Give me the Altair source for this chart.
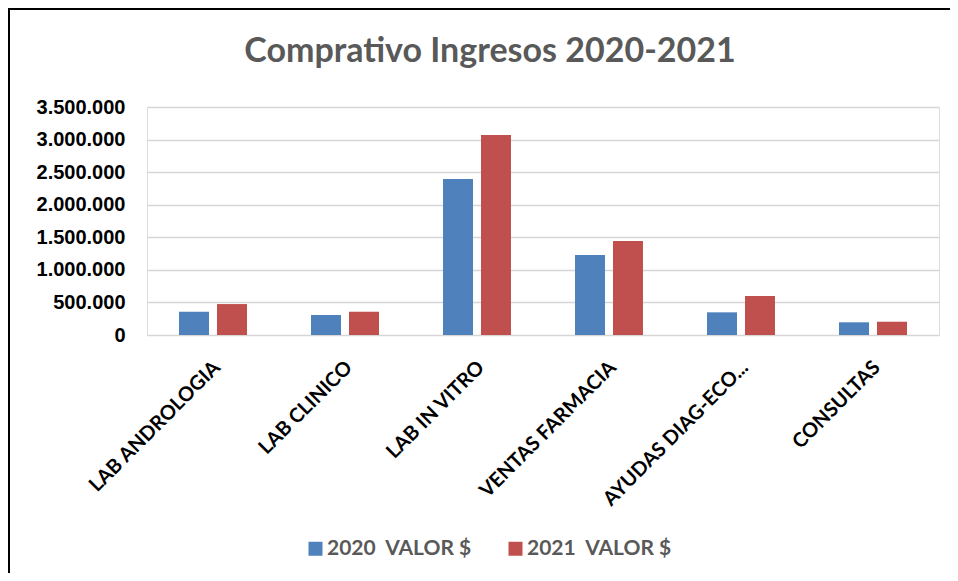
import altair as alt
import pandas as pd

categories = ["LAB ANDROLOGIA", "LAB CLINICO", "LAB IN VITRO",
              "VENTAS FARMACIA", "AYUDAS DIAG-ECO...", "CONSULTAS"]
series_names = ["2020 \u00a0VALOR $", "2021 \u00a0VALOR $"]
values_2020 = [357000, 307000, 2393000, 1227000, 348000, 195000]
values_2021 = [475000, 357000, 3072000, 1442000, 598000, 204000]
colors = ["#4F81BD", "#C0504D"]
y_ticks = [0, 500000, 1000000, 1500000, 2000000, 2500000, 3000000, 3500000]

rows = []
for c, a, b in zip(categories, values_2020, values_2021):
    rows.append({"cat": c, "serie": series_names[0], "valor": a})
    rows.append({"cat": c, "serie": series_names[1], "valor": b})
df = pd.DataFrame(rows)

W, H = 792, 228

bars = alt.Chart(df).mark_bar().encode(
    x=alt.X("cat:N", sort=categories, title=None,
            scale=alt.Scale(paddingInner=0.485, paddingOuter=0.2425),
            axis=alt.Axis(labelAngle=-45, labelAlign="right", labelBaseline="top",
                          labelFont="Lato", labelFontWeight="bold", labelFontSize=20,
                          labelColor="#000000", labelPadding=22, labelOffset=-3,
                          domain=False, ticks=False, labelLimit=400)),
    xOffset=alt.XOffset("serie:N", sort=series_names,
                        scale=alt.Scale(paddingInner=0.2105, paddingOuter=0)),
    y=alt.Y("valor:Q", title=None,
            scale=alt.Scale(domain=[0, 3500000], nice=False),
            axis=alt.Axis(values=y_ticks, domain=False, ticks=False,
                          labelExpr="replace(format(datum.value, ','), regexp(',', 'g'), '.')",
                          labelFont="Liberation Sans", labelFontWeight="bold",
                          labelFontSize=20, labelColor="#000000", labelPadding=22,
                          gridColor="#D6D6D6", gridWidth=1.6)),
    color=alt.Color("serie:N", sort=series_names,
                    scale=alt.Scale(domain=series_names, range=colors),
                    legend=alt.Legend(title=None, orient="none", direction="horizontal",
                                      legendX=158, legendY=431, symbolType="square",
                                      symbolSize=196, symbolStrokeWidth=0,
                                      labelFont="Lato", labelFontWeight="bold",
                                      labelFontSize=21, labelColor="#595959",
                                      labelOffset=1, columnPadding=33, padding=0)),
)

frame = pd.DataFrame({"k": [0]})
left_line = alt.Chart(frame).mark_rule(color="#000000", strokeWidth=2).encode(
    x=alt.value(-138), y=alt.value(-98), y2=alt.value(H + 300),
)
top_line = alt.Chart(frame).mark_rule(color="#000000", strokeWidth=2).encode(
    x=alt.value(-139), x2=alt.value(W + 11), y=alt.value(-98),
)

chart = alt.layer(left_line, top_line, bars).properties(
    width=W, height=H,
    autosize=alt.AutoSizeParams(type="none"),
    padding={"left": 139, "top": 99, "right": 11, "bottom": 238},
    title=alt.TitleParams("Comprativo Ingresos 2020-2021", font="Lato",
                          fontWeight="bold", fontSize=34, color="#595959",
                          anchor="middle", dx=-53, offset=0,
                          baseline="alphabetic", dy=88),
).configure_view(stroke=None).configure(background="#FFFFFF")

chart.save("out.html", embed_options={"renderer": "svg", "actions": False})
